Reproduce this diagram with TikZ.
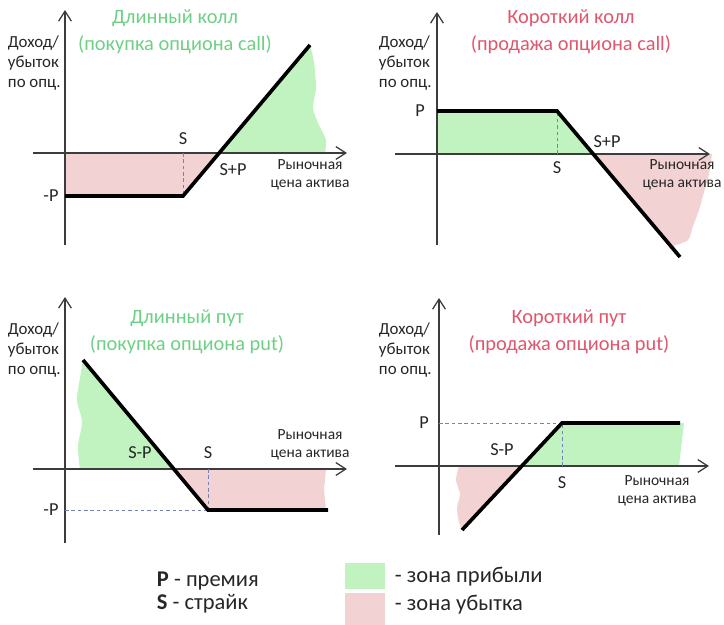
\documentclass[tikz,border=0pt]{standalone}
\usepackage{fontspec}
\setmainfont{Carlito}
\usetikzlibrary{arrows.meta}

\definecolor{gainfill}{RGB}{192,243,192}
\definecolor{lossfill}{RGB}{243,210,212}
\definecolor{gaintext}{RGB}{110,208,132}
\definecolor{losstext}{RGB}{224,86,108}
\definecolor{axisgray}{RGB}{60,60,60}
\definecolor{guidecol}{RGB}{120,130,185}

\begin{document}
\begin{tikzpicture}[
    x=0.025cm, y=-0.025cm,
    axis/.style={draw=axisgray, line width=0.9pt, -{Straight Barb[length=2.5mm,width=3.2mm]}},
    payoff/.style={draw=black, line width=2.6pt, line join=miter},
    guide/.style={draw=guidecol, line width=0.6pt, dash pattern=on 2.5pt off 2pt},
    gain/.style={fill=gainfill, draw=none},
    loss/.style={fill=lossfill, draw=none},
    ylab/.style={anchor=west, align=left, font=\fontsize{12}{14}\selectfont, text=black!85},
    xlab/.style={align=center, font=\fontsize{11}{12.5}\selectfont, text=black!85},
    ptlabel/.style={font=\fontsize{13}{14}\selectfont, text=black!85, inner sep=1pt},
    title/.style={align=center, font=\fontsize{14.5}{19}\selectfont},
    legend/.style={anchor=west, inner sep=0.5pt, font=\fontsize{16}{18}\selectfont, text=black!85}
]
\useasboundingbox (0,0) rectangle (724,625);

% Long call (top left)
\coordinate (lc_ybot) at (65,245);
\coordinate (lc_ytop) at (65,10);
\coordinate (lc_xl) at (33,153);
\coordinate (lc_xr) at (347,153);
\coordinate (lc_o) at (65,153);
\coordinate (lc_p) at (65,196);
\coordinate (lc_s) at (183,196);
\coordinate (lc_sax) at (183,153);
\coordinate (lc_be) at (218,153);
\coordinate (lc_end) at (310,45);

\fill[loss] (lc_o) -- (lc_p) -- (lc_s) -- (lc_be) -- cycle;
\fill[gain] (lc_be) -- (lc_end) -- plot[smooth] coordinates {(310,45) (314,62) (316,88) (313,108) (319,125) (326,140) (325,153)} -- cycle;
\draw[axis] (lc_ybot) -- (lc_ytop);
\draw[axis] (lc_xl) -- (lc_xr);
\draw[guide] (lc_sax) -- (lc_s);
\draw[payoff] (lc_p) -- (lc_s) -- (lc_end);

\node[title, text=gaintext] (lc_title) at (175,32) {Длинный колл\\(покупка опциона call)};
\node[ylab] (lc_ylab) at (3,63) {Доход/\\убыток\\по опц.};
\node[xlab] (lc_xlab) at (310,175) {Рыночная\\цена актива};
\node[ptlabel] (lc_slab) at (183,139) {S};
\node[ptlabel] (lc_splab) at (233,170) {S+P};
\node[ptlabel] (lc_plab) at (51,196) {-P};

% Short call (top right)
\coordinate (sc_ybot) at (437,245);
\coordinate (sc_ytop) at (437,12);
\coordinate (sc_xl) at (395,154);
\coordinate (sc_xr) at (710,154);
\coordinate (sc_o) at (437,154);
\coordinate (sc_p) at (437,111);
\coordinate (sc_s) at (557,111);
\coordinate (sc_sax) at (557,154);
\coordinate (sc_be) at (592,154);
\coordinate (sc_end) at (680,257);

\fill[gain] (sc_o) -- (sc_p) -- (sc_s) -- (sc_be) -- cycle;
\fill[loss] (sc_be) -- (673,246) -- plot[smooth] coordinates {(673,246) (688,240) (693,226) (699,210) (704,192) (709,174) (712,154)} -- cycle;
\draw[axis] (sc_ybot) -- (sc_ytop);
\draw[axis] (sc_xl) -- (sc_xr);
\draw[guide] (sc_sax) -- (sc_s);
\draw[payoff] (sc_p) -- (sc_s) -- (sc_end);

\node[title, text=losstext] (sc_title) at (571,32) {Короткий колл\\(продажа опциона call)};
\node[ylab] (sc_ylab) at (374,63) {Доход/\\убыток\\по опц.};
\node[xlab] (sc_xlab) at (682,175) {Рыночная\\цена актива};
\node[ptlabel] (sc_slab) at (557,168) {S};
\node[ptlabel] (sc_splab) at (607,142) {S+P};
\node[ptlabel] (sc_plab) at (420,111) {P};

% Long put (bottom left)
\coordinate (lp_ybot) at (65,543);
\coordinate (lp_ytop) at (65,297);
\coordinate (lp_xl) at (33,469);
\coordinate (lp_xr) at (347,469);
\coordinate (lp_p) at (65,510);
\coordinate (lp_start) at (83,360);
\coordinate (lp_be) at (174,469);
\coordinate (lp_s) at (208,510);
\coordinate (lp_sax) at (208,469);
\coordinate (lp_end) at (328,510);

\fill[gain] (lp_be) -- (lp_start) -- plot[smooth] coordinates {(83,360) (80,378) (77,400) (82,422) (78,446) (80,469)} -- cycle;
\fill[loss] (lp_be) -- (lp_s) -- (326,510) -- (324,490) -- (326,469) -- cycle;
\draw[axis] (lp_ybot) -- (lp_ytop);
\draw[axis] (lp_xl) -- (lp_xr);
\draw[guide] (lp_p) -- (lp_s);
\draw[guide] (lp_sax) -- (lp_s);
\draw[payoff] (lp_start) -- (lp_s) -- (lp_end);

\node[title, text=gaintext] (lp_title) at (187,332) {Длинный пут\\(покупка опциона put)};
\node[ylab] (lp_ylab) at (3,350) {Доход/\\убыток\\по опц.};
\node[xlab] (lp_xlab) at (310,445) {Рыночная\\цена актива};
\node[ptlabel] (lp_slab) at (208,453) {S};
\node[ptlabel] (lp_splab) at (140,453) {S-P};
\node[ptlabel] (lp_plab) at (51,510) {-P};

% Short put (bottom right)
\coordinate (sp_ybot) at (439,535);
\coordinate (sp_ytop) at (439,298);
\coordinate (sp_xl) at (395,466);
\coordinate (sp_xr) at (709,466);
\coordinate (sp_p) at (439,423);
\coordinate (sp_start) at (462,530);
\coordinate (sp_be) at (522,466);
\coordinate (sp_s) at (562,423);
\coordinate (sp_sax) at (562,466);
\coordinate (sp_end) at (680,423);

\fill[gain] (sp_be) -- (sp_s) -- (684,423) -- (679,466) -- cycle;
\fill[loss] (sp_be) -- (sp_start) -- plot[smooth] coordinates {(462,530) (459,522) (457,508) (460,494) (456,480) (459,466)} -- cycle;
\draw[axis] (sp_ybot) -- (sp_ytop);
\draw[axis] (sp_xl) -- (sp_xr);
\draw[guide] (sp_p) -- (sp_s);
\draw[guide] (sp_sax) -- (sp_s);
\draw[payoff] (sp_start) -- (sp_s) -- (sp_end);

\node[title, text=losstext] (sp_title) at (569,332) {Короткий пут\\(продажа опциона put)};
\node[ylab] (sp_ylab) at (374,350) {Доход/\\убыток\\по опц.};
\node[xlab] (sp_xlab) at (657,491) {Рыночная\\цена актива};
\node[ptlabel] (sp_slab) at (562,483) {S};
\node[ptlabel] (sp_splab) at (502,450) {S-P};
\node[ptlabel] (sp_plab) at (424,423) {P};

% Legend
\node[legend] (leg_p) at (156,581) {\textbf{P} - премия};
\node[legend] (leg_s) at (156,604) {\textbf{S} - страйк};
\node[gain, minimum width=1cm, minimum height=0.65cm, inner sep=0pt] (leg_gainbox) at (365,576) {};
\node[loss, minimum width=1cm, minimum height=0.8cm, inner sep=0pt] (leg_lossbox) at (365,609) {};
\node[legend] (leg_gain) at (394,577) {- зона прибыли};
\node[legend] (leg_loss) at (394,605) {- зона убытка};

\end{tikzpicture}
\end{document}
